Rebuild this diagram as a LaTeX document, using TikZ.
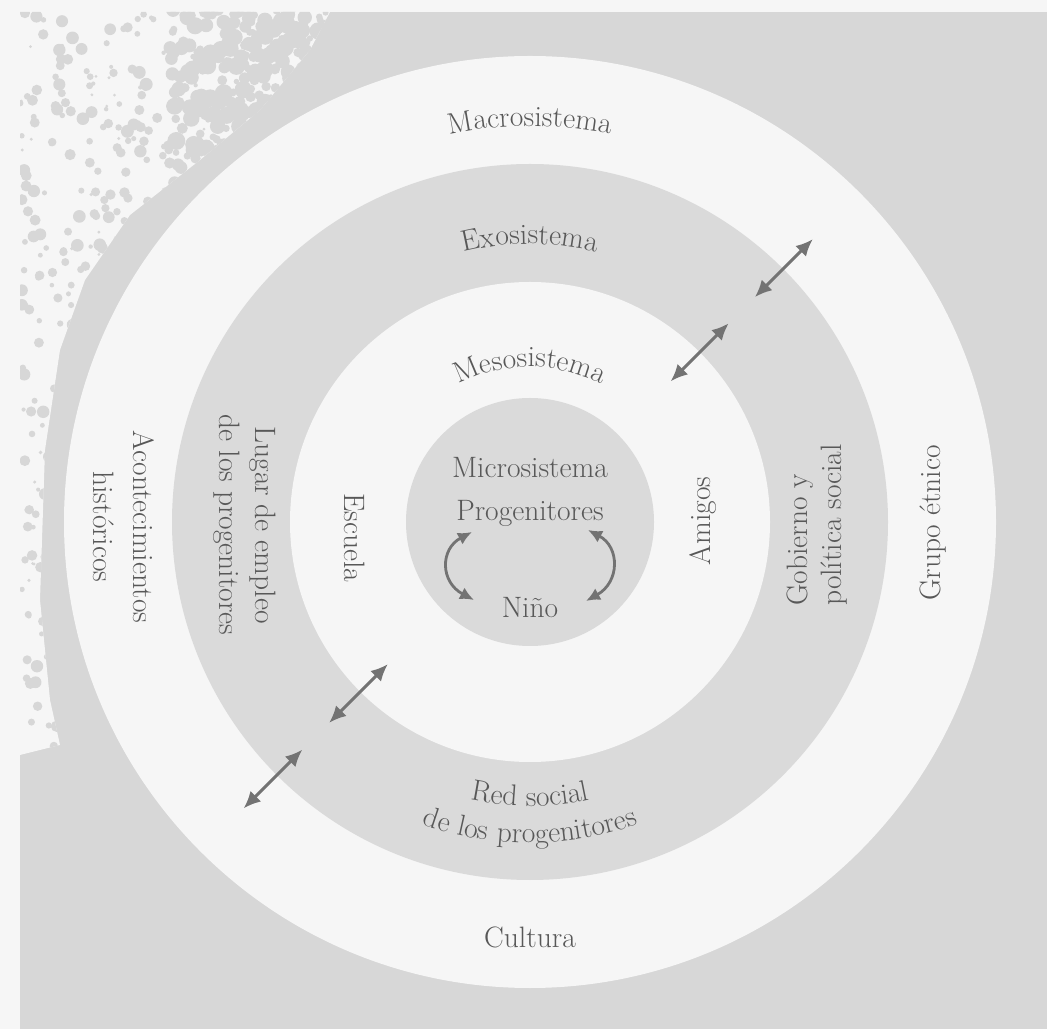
\documentclass[tikz,border=0pt]{standalone}
\usetikzlibrary{decorations.text,arrows.meta}
\definecolor{bggray}{RGB}{215,215,215}
\definecolor{ringgray}{RGB}{218,218,218}
\definecolor{paper}{RGB}{246,246,246}
\definecolor{txt}{RGB}{88,88,88}
\definecolor{arr}{RGB}{115,115,115}
\newcommand{\lblfont}{\fontsize{29.5}{35}\selectfont}
\begin{document}
\begin{tikzpicture}[x=1pt,y=1pt,
  lbl/.style={text=txt, font=\lblfont, inner sep=0pt},
  biarrow/.style={draw=arr, line width=3pt, {Latex[length=17pt,width=15pt]}-{Latex[length=17pt,width=15pt]}},
  curvarrow/.style={draw=arr, line width=2.8pt, {Latex[length=14pt,width=13pt]}-{Latex[length=14pt,width=13pt]}},
  arctext/.style={decorate, decoration={text along path, text align=center, text color=txt}}]
\useasboundingbox (0,0) rectangle (1047,1029);
\fill[paper] (0,0) rectangle (1047,1029);
\fill[bggray] (20,0) rectangle (1047,1017);
% whitish weathered patch at the top left, speckled
\begin{scope}
  \clip (20,1017) -- (330,1017) -- (310,979) -- (260,919) -- (200,869) -- (130,814) -- (85,749) -- (60,679) -- (45,579) -- (40,429) -- (50,329) -- (60,284) -- (20,274) -- cycle;
  \fill[paper] (0,0) rectangle (400,1029);
  \pgfmathsetseed{11}
  \foreach \i in {1,...,900} {
    \pgfmathsetmacro{\rx}{20+320*rnd}
    \pgfmathsetmacro{\ry}{270+750*rnd}
    \pgfmathsetmacro{\rr}{1.5+5*rnd}
    \fill[bggray] (\rx,\ry) circle[radius=\rr];
  }
  \pgfmathsetseed{5}
  \foreach \i in {1,...,300} {
    \pgfmathsetmacro{\rx}{170+170*rnd}
    \pgfmathsetmacro{\ry}{850+170*rnd}
    \pgfmathsetmacro{\rr}{3+6*rnd}
    \fill[bggray] (\rx,\ry) circle[radius=\rr];
  }
\end{scope}
\begin{scope}[shift={(530,507)}]
  \fill[paper] (0,0) circle[radius=466];
  \fill[ringgray] (0,0) circle[radius=358];
  \fill[paper] (0,0) circle[radius=240];
  \fill[ringgray] (0,0) circle[radius=124];

  % curved labels
  \path[arctext, decoration={text={|\lblfont|Macrosistema}}] (115:396) arc[start angle=115, end angle=65, radius=396];
  \path[arctext, decoration={text={|\lblfont|Exosistema}}] (120:278) arc[start angle=120, end angle=60, radius=278];
  \path[arctext, decoration={text={|\lblfont|Mesosistema}}] (135:155) arc[start angle=135, end angle=45, radius=155];
  \path[arctext, decoration={text={|\lblfont|Red social}}] (245:284) arc[start angle=245, end angle=295, radius=284];
  \path[arctext, decoration={text={|\lblfont|de los progenitores}}] (235:321) arc[start angle=235, end angle=305, radius=321];

  % straight labels
  \node[lbl] (cultura) at (0,-415) {Cultura};
  \node[lbl, rotate=-90, align=center, font=\fontsize{29.5}{40}\selectfont] (acont) at (-406,-5) {Acontecimientos\\históricos};
  \node[lbl, rotate=-90, align=center, font=\fontsize{29.5}{36}\selectfont] (lugar) at (-285,-3) {Lugar de empleo\\de los progenitores};
  \node[lbl, rotate=-90] (escuela) at (-175,-16) {Escuela};
  \node[lbl, rotate=90] (amigos) at (173,1) {Amigos};
  \node[lbl, rotate=90, align=left, font=\fontsize{29.5}{34}\selectfont] (gob) at (287,-3) {Gobierno y\\política social};
  \node[lbl, rotate=90] (grupo) at (403,-1) {Grupo étnico};

  \node[lbl] (micro) at (0,54) {Microsistema};
  \node[lbl] (prog) at (0,9) {Progenitores};
  \node[lbl] (nino) at (0,-86) {Niño};

  % micro arrows
  \coordinate (la) at (-58,-10);
  \coordinate (lb) at (-56,-78);
  \coordinate (ra) at (58,-8);
  \coordinate (rb) at (56,-79);
  \draw[curvarrow] (la) .. controls (-90,-27) and (-90,-60) .. (lb);
  \draw[curvarrow] (ra) .. controls (90,-25) and (90,-60) .. (rb);

  % straight double arrows
  \coordinate (o1a) at (45:318);
  \coordinate (o1b) at (45:400);
  \coordinate (i1a) at (45:199);
  \coordinate (i1b) at (45:281);
  \coordinate (i2a) at (225:201);
  \coordinate (i2b) at (225:284);
  \coordinate (o2a) at (225:322);
  \coordinate (o2b) at (225:405);
  \draw[biarrow] (o1a) -- (o1b);
  \draw[biarrow] (i1a) -- (i1b);
  \draw[biarrow] (i2a) -- (i2b);
  \draw[biarrow] (o2a) -- (o2b);
\end{scope}
\end{tikzpicture}
\end{document}
